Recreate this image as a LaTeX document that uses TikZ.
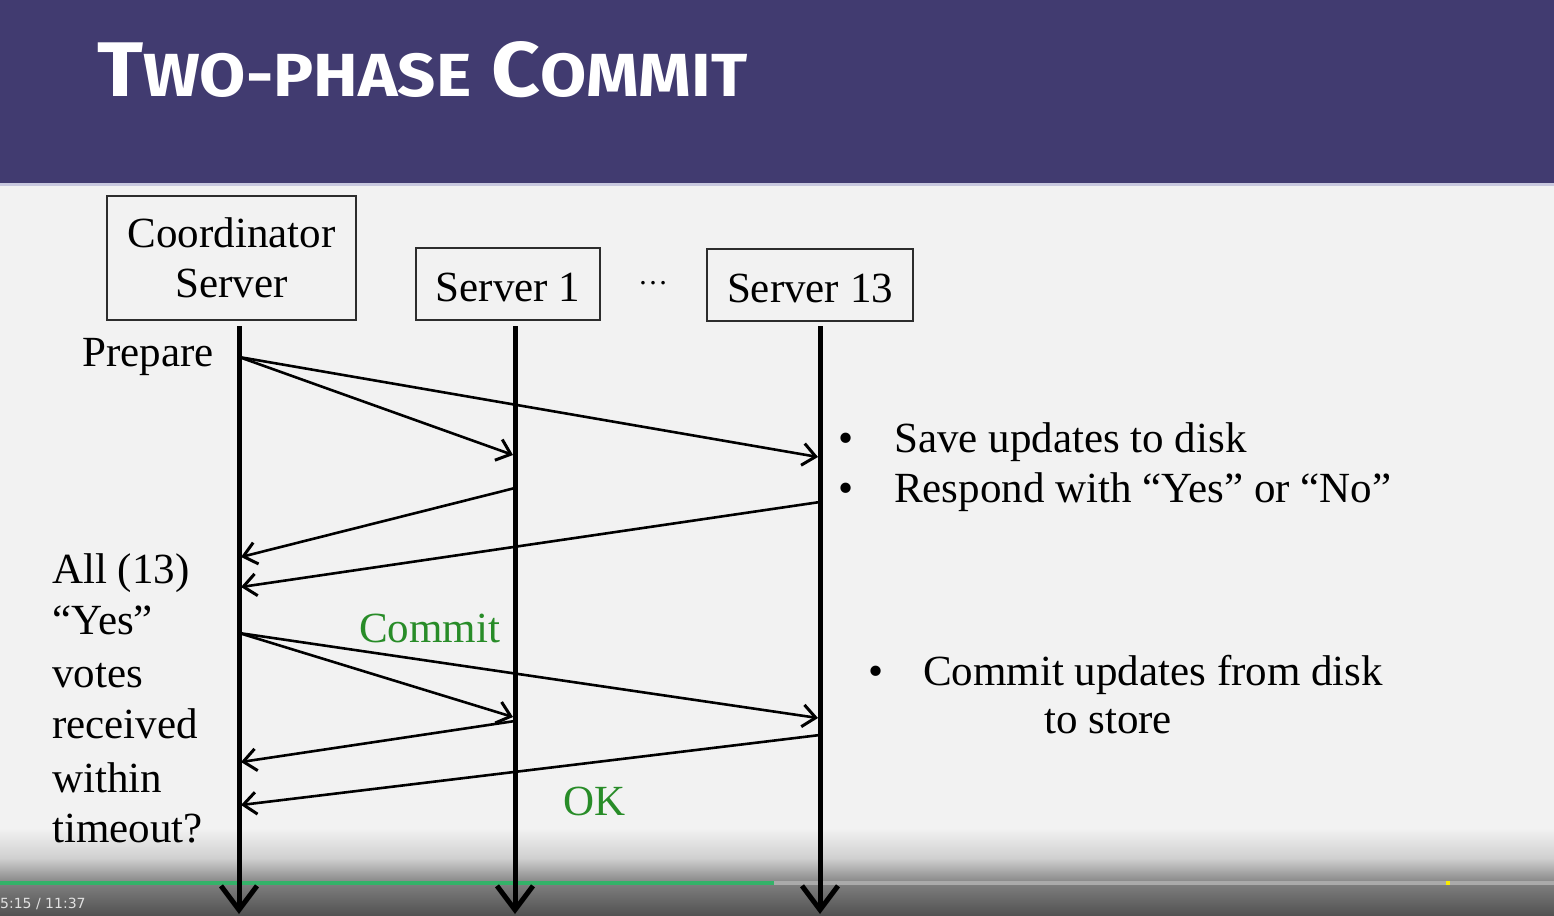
\documentclass[tikz,border=0pt]{standalone}
\usepackage{fontspec}
\setmainfont{Liberation Serif}
\newfontfamily\titlefont{Fira Sans}
\newfontfamily\uifont{DejaVu Sans}
\usetikzlibrary{arrows.meta}
\definecolor{headerpurple}{RGB}{65,59,112}
\definecolor{headerrule}{RGB}{200,200,222}
\definecolor{slidebg}{RGB}{242,242,242}
\definecolor{msggreen}{RGB}{40,140,40}
\definecolor{boxline}{RGB}{45,45,45}
\definecolor{fadeA}{RGB}{208,208,208}
\definecolor{fadeB}{RGB}{138,138,138}
\definecolor{barbottomA}{RGB}{124,124,124}
\definecolor{barbottomB}{RGB}{82,82,82}
\definecolor{trackgray}{RGB}{170,170,170}
\definecolor{playedgreen}{RGB}{52,178,105}
\definecolor{timetext}{RGB}{225,225,225}
\definecolor{cuemark}{RGB}{250,235,0}

\begin{document}
\begin{tikzpicture}[x=1pt,y=-1pt,
  txt/.style={inner sep=0pt, font=\fontsize{43}{52}\selectfont},
  basew/.style={txt, anchor=base west},
  actor/.style={draw=boxline, line width=1.8pt, inner sep=0pt, align=center,
                font=\fontsize{43}{51}\selectfont},
  lifeline/.style={line width=5pt, -{Straight Barb[length=24pt,width=36pt,line width=5pt]}},
  msg/.style={line width=2.6pt, -{Straight Barb[length=13pt,width=22pt,line width=3pt]}},
]
% page, header band and its rule
\useasboundingbox (0,0) rectangle (1554,915);
\fill[slidebg] (0,0) rectangle (1554,915);
\fill[headerpurple] (0,0) rectangle (1554,183);
\fill[headerrule] (0,183) rectangle (1554,185.5);

\node[anchor=base west, inner sep=0pt, text=white] (title) at (97,97)
  {\resizebox{650pt}{55pt}{\titlefont\bfseries
   {\fontsize{70}{70}\selectfont T}{\fontsize{55}{55}\selectfont WO-PHASE}{\fontsize{70}{70}\selectfont\ C}{\fontsize{55}{55}\selectfont OMMIT}}};

% player controls along the bottom edge
\shade[top color=slidebg, bottom color=fadeA] (0,828) rectangle (1554,858);
\shade[top color=fadeA, bottom color=fadeB] (0,858) rectangle (1554,881);
\fill[trackgray] (0,881) rectangle (1554,885.5);
\fill[playedgreen] (0,881) rectangle (774,885.5);
\fill[cuemark] (1446,881) rectangle (1450,885.5);
\shade[top color=barbottomA, bottom color=barbottomB] (0,885.5) rectangle (1554,915);
\node[anchor=base west, inner sep=0pt, text=timetext,
      font=\uifont\fontsize{14}{16}\selectfont] (clock) at (0,908) {5:15 / 11:37};

% participants
\node[actor, minimum width=249pt, minimum height=124pt] (coord) at (231.5,258)
  {Coordinator\\[-1pt]Server};
\node[actor, minimum width=184pt, minimum height=72pt] (s1) at (508,284)
  {\raisebox{-3pt}[\height][\depth]{Server 1}};
\node[actor, minimum width=206pt, minimum height=72pt] (s13) at (810,285)
  {\raisebox{-3pt}[\height][\depth]{Server 13}};
\node[inner sep=0pt, anchor=base, font=\fontsize{30}{30}\selectfont] (gap) at (653,284) {…};

% lifelines
\coordinate (c0) at (239,326);  \coordinate (c1) at (239,914);
\coordinate (a0) at (515,326);  \coordinate (a1) at (515,914);
\coordinate (b0) at (820,326);  \coordinate (b1) at (820,914);
\draw[lifeline] (c0) -- (c1);
\draw[lifeline] (a0) -- (a1);
\draw[lifeline] (b0) -- (b1);

% phase 1: prepare and votes
\coordinate (prep) at (239,357);
\coordinate (prepA) at (513,455);
\coordinate (prepB) at (818,457);
\coordinate (voteA) at (515,488);
\coordinate (voteAin) at (241,557);
\coordinate (voteB) at (820,502);
\coordinate (voteBin) at (241,587);
\draw[msg] (prep) -- (prepA);
\draw[msg] (prep) -- (prepB);
\draw[msg] (voteA) -- (voteAin);
\draw[msg] (voteB) -- (voteBin);

% phase 2: commit and acknowledgements
\coordinate (com) at (239,633);
\coordinate (comA) at (513,717);
\coordinate (comB) at (818,718);
\coordinate (okA) at (515,721);
\coordinate (okAin) at (241,762);
\coordinate (okB) at (820,735);
\coordinate (okBin) at (241,805);
\draw[msg] (com) -- (comA);
\draw[msg] (com) -- (comB);
\draw[msg] (okA) -- (okAin);
\draw[msg] (okB) -- (okBin);

% labels on the coordinator side
\node[txt, anchor=base east] (lprep) at (214,366) {Prepare};
\node[basew] (q1) at (52,583) {All (13)};
\node[basew] (q2) at (52,634) {“Yes”};
\node[basew] (q3) at (52,687) {votes};
\node[basew] (q4) at (52,738) {received};
\node[basew] (q5) at (52,792) {within};
\node[basew] (q6) at (52,842) {timeout?};

\node[basew, text=msggreen] (lcommit) at (359,642) {Commit};
\node[basew, text=msggreen] (lok) at (563,815) {OK};

% participant actions
\node[txt, anchor=base] (d1) at (846,452) {•};
\node[basew] (t1) at (894,452) {Save updates to disk};
\node[txt, anchor=base] (d2) at (846,502) {•};
\node[basew] (t2) at (894,502) {Respond with “Yes” or “No”};
\node[txt, anchor=base] (d3) at (876,685) {•};
\node[basew] (t3) at (923,685) {Commit updates from disk};
\node[basew] (t4) at (1044,733) {to store};
\end{tikzpicture}
\end{document}
